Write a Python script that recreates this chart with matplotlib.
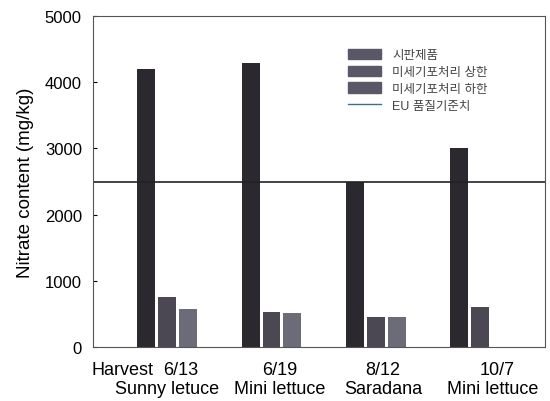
import numpy as np
import matplotlib.pyplot as plt
from matplotlib.lines import Line2D
from matplotlib.patches import Patch

plt.rcParams['font.family'] = ['Liberation Sans', 'Noto Sans CJK KR', 'DejaVu Sans']

dates = ['6/13', '6/19', '8/12', '10/7']
names = ['Sunny letuce', 'Mini lettuce', 'Saradana', 'Mini lettuce']
commercial = [4200, 4290, 2490, 3000]
upper = [760, 530, 450, 600]
lower = [570, 510, 450, np.nan]
eu_limit = 2500

series_names = ['시판제품', '미세기포처리 상한', '미세기포처리 하한']
bar_colors = ['#2b2830', '#4b4853', '#6b6c78']

# label offsets (as drawn in the original figure)
date_shift = [0.13, 0.08, 0.07, 0.16]
name_shift = [0.0, 0.08, 0.07, 0.12]

fig = plt.figure(figsize=(5.5, 4.02), dpi=100)
ax = fig.add_axes([0.169, 0.134, 0.822, 0.824])

x = np.arange(len(dates))
w = 0.2
for i, vals in enumerate([commercial, upper, lower]):
    ax.bar(x + (i - 1) * w, vals, width=w * 0.86, color=bar_colors[i])

ax.axhline(eu_limit, color='#222222', lw=1.2)

ax.set_xlim(-0.71, 3.62)
ax.set_ylim(0, 5000)
ax.set_yticks([0, 1000, 2000, 3000, 4000, 5000])
ax.tick_params(axis='y', direction='in', length=3, labelsize=12, pad=8)
ax.set_xticks([])
ax.set_ylabel('Nitrate content (mg/kg)', fontsize=13.5, labelpad=8)
for s in ax.spines.values():
    s.set_color('#555555')

tr = ax.get_xaxis_transform()
for i in range(len(dates)):
    ax.annotate(dates[i], xy=(x[i] + date_shift[i], 0), xycoords=tr,
                xytext=(0, -10), textcoords='offset points',
                ha='center', va='top', fontsize=13)
    ax.annotate(names[i], xy=(x[i] + name_shift[i], 0), xycoords=tr,
                xytext=(0, -24), textcoords='offset points',
                ha='center', va='top', fontsize=13)
ax.annotate('Harvest', xy=(-0.43, 0), xycoords=tr,
            xytext=(0, -10), textcoords='offset points',
            ha='center', va='top', fontsize=13)

handles = [Patch(color='#5a5866', label=n) for n in series_names]
handles.append(Line2D([0], [0], color='#3d6f8f', lw=1, label='EU 품질기준치'))
ax.legend(handles=handles, loc='upper left', bbox_to_anchor=(0.54, 0.935),
          frameon=False, fontsize=9, handlelength=2.6, handleheight=0.9,
          handletextpad=0.9, labelspacing=0.35, labelcolor='#444444')

fig.savefig('out.png', dpi=100)
